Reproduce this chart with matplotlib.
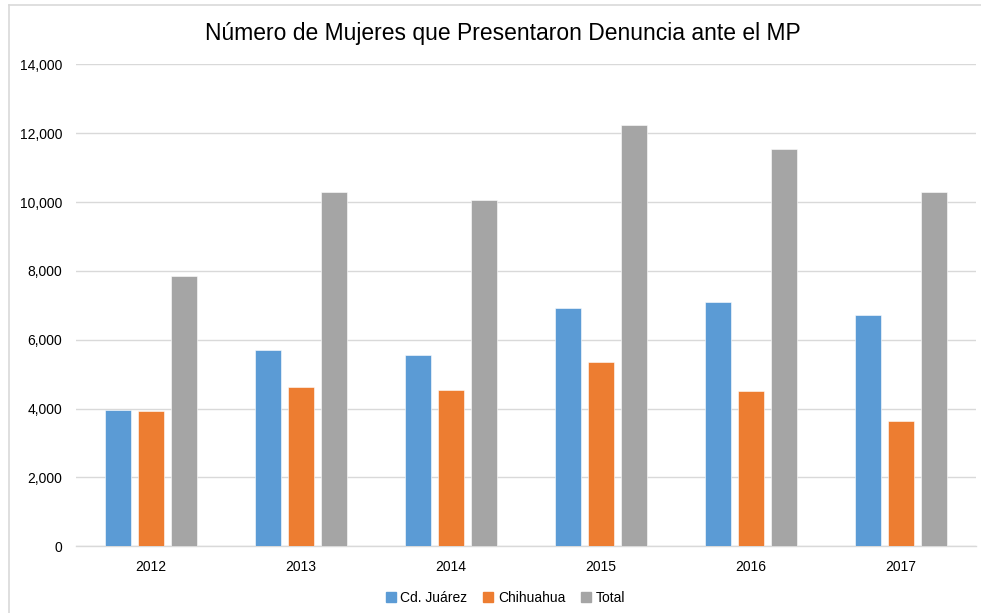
import numpy as np
import matplotlib.pyplot as plt
from matplotlib.lines import Line2D

years = ["2012", "2013", "2014", "2015", "2016", "2017"]
juarez = [3960, 5700, 5560, 6910, 7090, 6710]
chihuahua = [3920, 4630, 4540, 5350, 4500, 3640]
total = [7840, 10290, 10050, 12250, 11530, 10290]

series = [
    ("Cd. Juárez", juarez, "#5b9bd5"),
    ("Chihuahua", chihuahua, "#ed7d31"),
    ("Total", total, "#a5a5a5"),
]

plt.rcParams["font.family"] = ["Liberation Sans", "DejaVu Sans"]

fig = plt.figure(figsize=(9.81, 6.13), dpi=100)
ax = fig.add_axes([0.0775, 0.1088, 0.9175, 0.786])

x = np.arange(len(years))
width = 0.175
step = 0.22
for i, (name, vals, color) in enumerate(series):
    ax.bar(x + (i - 1) * step, vals, width, color=color, label=name,
           edgecolor="white", linewidth=0.4, zorder=3)

ax.set_xlim(-0.5, len(years) - 0.5)
ax.set_ylim(0, 14000)
ax.set_yticks(range(0, 14001, 2000))
ax.yaxis.set_major_formatter(plt.FuncFormatter(lambda v, p: f"{int(v):,}"))
ax.set_xticks(x)
ax.set_xticklabels(years)
ax.grid(axis="y", color="#d9d9d9", linewidth=1, zorder=0)
for s in ["top", "right", "left"]:
    ax.spines[s].set_visible(False)
ax.spines["bottom"].set_color("#d9d9d9")
ax.spines["bottom"].set_linewidth(1)
ax.tick_params(axis="both", length=0, labelsize=10, colors="#404040")
ax.tick_params(axis="y", pad=10)
ax.tick_params(axis="x", pad=10)
for lbl in ax.get_xticklabels() + ax.get_yticklabels():
    lbl.set_color("black")

fig.text(0.513, 0.946, "Número de Mujeres que Presentaron Denuncia ante el MP",
         ha="center", va="center", fontsize=16.5)

handles = [Line2D([0], [0], marker="s", linestyle="none", markersize=7,
                  markerfacecolor=c, markeredgecolor=c) for _, _, c in series]
fig.legend(handles, [n for n, _, _ in series], loc="center",
           bbox_to_anchor=(0.515, 0.025), ncol=3, frameon=False, fontsize=10,
           handletextpad=0.3, columnspacing=1.1, handlelength=0.8)

# chart-area border (left and top visible)
fig.add_artist(Line2D([0.0092, 0.0092], [0, 0.992], color="#d9d9d9", linewidth=1.2,
                      transform=fig.transFigure))
fig.add_artist(Line2D([0.0092, 1.0], [0.992, 0.992], color="#d9d9d9", linewidth=1.2,
                      transform=fig.transFigure))

fig.savefig("out.png", dpi=100)
